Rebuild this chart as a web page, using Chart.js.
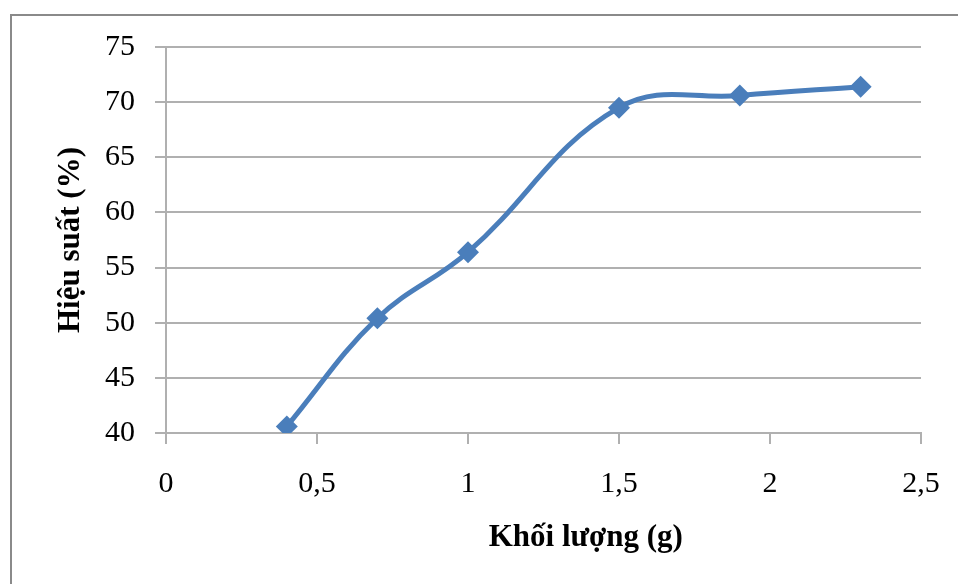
<!DOCTYPE html>
<html>
<head>
<meta charset="utf-8">
<script src="https://cdn.jsdelivr.net/npm/chart.js@4.4.0/dist/chart.umd.min.js"></script>
<style>
  html, body { margin: 0; padding: 0; background: #ffffff; }
  canvas { display: block; }
</style>
</head>
<body>
<canvas id="c" width="958" height="584"></canvas>
<script>
// Data
const massValues = [0.4, 0.7, 1.0, 1.5, 1.9, 2.3];            // Khối lượng (g)
const efficiencyValues = [40.6, 50.4, 56.4, 69.5, 70.6, 71.4]; // Hiệu suất (%)
const xTitle = 'Khối lượng (g)';
const yTitle = 'Hiệu suất (%)';
const xRange = [0, 2.5];
const yRange = [40, 75];

const points = massValues.map((x, i) => ({ x: x, y: efficiencyValues[i] }));

const serif = '"Liberation Serif", "Times New Roman", serif';
const tickFont = { family: serif, size: 30 };
const titleFont = { family: serif, size: 31, weight: 'bold' };
const gridColor = '#b0b0b0';

const frame = {
  id: 'frame',
  beforeDraw(chart) {
    const ctx = chart.ctx;
    ctx.save();
    ctx.fillStyle = '#ffffff';
    ctx.fillRect(0, 0, chart.width, chart.height);
    ctx.strokeStyle = '#8a8a8a';
    ctx.lineWidth = 2;
    ctx.strokeRect(11, 15, 1200, 1200);
    ctx.restore();
  },
  afterDraw(chart) {
    // x-axis title, placed right of the plot centre as in the reference
    const ctx = chart.ctx;
    ctx.save();
    ctx.font = 'bold ' + titleFont.size + 'px ' + serif;
    ctx.fillStyle = '#000000';
    ctx.textAlign = 'center';
    ctx.textBaseline = 'middle';
    const xs = chart.scales.x;
    const cx = xs.getPixelForValue(1.39);
    ctx.fillText(xTitle, cx, 538);
    ctx.restore();
  }
};

new Chart(document.getElementById('c'), {
  type: 'line',
  data: {
    datasets: [{
      data: points,
      borderColor: '#4a7ebb',
      backgroundColor: '#4a7ebb',
      borderWidth: 5,
      tension: 0.4,
      pointStyle: 'rectRot',
      pointRadius: 11,
      pointHoverRadius: 11,
      pointBorderWidth: 0,
      fill: false
    }]
  },
  plugins: [frame],
  options: {
    responsive: false,
    animation: false,
    events: [],
    layout: { padding: { left: 0, top: 47, right: 37, bottom: 0 } },
    plugins: { legend: { display: false }, tooltip: { enabled: false } },
    scales: {
      x: {
        type: 'linear',
        min: xRange[0],
        max: xRange[1],
        afterFit(scale) {
          scale.height = 151;
          scale.paddingRight = 0;
          scale.paddingLeft = 0;
        },
        ticks: {
          stepSize: 0.5,
          color: '#000000',
          font: tickFont,
          padding: 22,
          maxRotation: 0,
          callback: (v) => String(v).replace('.', ',')
        },
        grid: {
          drawOnChartArea: false,
          drawTicks: true,
          tickLength: 11,
          color: gridColor,
          lineWidth: 2
        },
        border: { display: true, color: gridColor, width: 2 },
        title: { display: false }
      },
      y: {
        type: 'linear',
        min: yRange[0],
        max: yRange[1],
        afterFit(scale) { scale.width = 166; },
        ticks: {
          stepSize: 5,
          color: '#000000',
          font: tickFont,
          padding: 20
        },
        grid: {
          drawOnChartArea: true,
          drawTicks: true,
          tickLength: 11,
          color: gridColor,
          lineWidth: 2
        },
        border: { display: true, color: gridColor, width: 2 },
        title: {
          display: true,
          text: yTitle,
          color: '#000000',
          font: titleFont,
          padding: { top: 52, bottom: 0 }
        }
      }
    }
  }
});
</script>
</body>
</html>
